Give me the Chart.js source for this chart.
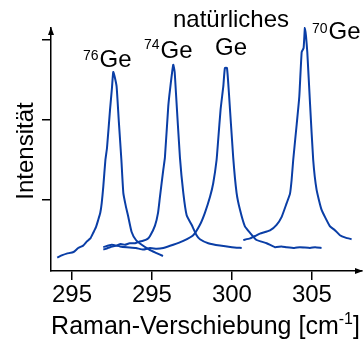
<!DOCTYPE html>
<html>
<head>
<meta charset="utf-8">
<script src="https://cdn.jsdelivr.net/npm/chart.js@4.4.1/dist/chart.umd.min.js"></script>
<style>
  html, body { margin: 0; padding: 0; background: #fff; }
  #wrap { width: 363px; height: 340px; }
</style>
</head>
<body>
<div id="wrap"><canvas id="raman"></canvas></div>
<script>
// ── Daten (Raman-Verschiebung in cm^-1, Intensität in willk. Einheiten) ──
const xTickValues = [290, 295, 300, 305];
const xTickLabels = ["295", "295", "300", "305"];
const yTickValues = [1, 2, 3];

const ge76X = [289.08, 289.40, 289.67, 290.10, 290.39, 290.70, 290.92, 291.15, 291.33, 291.50, 291.64, 291.77, 291.86, 291.96, 292.09, 292.19, 292.38, 292.50, 292.58, 292.66, 292.79, 292.93, 293.09, 293.21, 293.36, 293.52, 293.73, 294.00, 294.36, 294.83, 295.25, 295.69];
const ge76Y = [0.28, 0.31, 0.33, 0.35, 0.40, 0.43, 0.48, 0.52, 0.59, 0.66, 0.75, 0.84, 0.96, 1.17, 1.50, 1.65, 2.13, 2.40, 2.60, 2.55, 2.42, 1.98, 1.50, 1.09, 0.93, 0.79, 0.60, 0.50, 0.44, 0.38, 0.34, 0.30];

const ge74X = [291.96, 292.38, 292.79, 293.05, 293.31, 293.60, 293.94, 294.20, 294.44, 294.70, 294.88, 295.19, 295.38, 295.50, 295.71, 295.81, 296.02, 296.13, 296.33, 296.42, 296.50, 296.75, 296.96, 297.17, 297.48, 297.79, 298.00, 298.52, 299.25, 300.00, 300.61];
const ge74Y = [0.38, 0.41, 0.43, 0.45, 0.44, 0.46, 0.46, 0.48, 0.49, 0.51, 0.55, 0.68, 0.84, 1.04, 1.38, 1.53, 2.17, 2.38, 2.69, 2.60, 2.34, 1.53, 1.09, 0.81, 0.69, 0.56, 0.51, 0.46, 0.43, 0.41, 0.40];

const geNatX = [291.96, 292.48, 293.00, 293.42, 294.00, 294.46, 294.88, 295.30, 295.71, 296.33, 296.96, 297.58, 298.00, 298.31, 298.63, 298.83, 299.04, 299.14, 299.29, 299.46, 299.56, 299.69, 299.81, 300.08, 300.29, 300.50, 300.81, 301.13, 301.54, 302.17, 302.69, 303.10, 303.42, 303.90, 304.25, 304.88, 305.20, 305.60];
const geNatY = [0.41, 0.44, 0.42, 0.41, 0.40, 0.38, 0.40, 0.39, 0.40, 0.44, 0.49, 0.56, 0.69, 0.84, 1.04, 1.21, 1.50, 1.75, 2.13, 2.42, 2.65, 2.65, 2.34, 1.53, 1.09, 0.88, 0.67, 0.59, 0.50, 0.46, 0.41, 0.42, 0.41, 0.40, 0.41, 0.40, 0.41, 0.40];

const ge70X = [300.71, 301.13, 301.45, 301.75, 302.38, 302.79, 303.11, 303.42, 303.63, 303.73, 303.83, 304.05, 304.21, 304.36, 304.48, 304.56, 304.63, 304.71, 304.88, 305.08, 305.29, 305.60, 306.13, 306.45, 306.75, 307.10, 307.48];
const ge70Y = [0.50, 0.52, 0.55, 0.58, 0.62, 0.69, 0.79, 0.96, 1.08, 1.25, 1.50, 1.95, 2.29, 2.85, 2.90, 3.15, 3.05, 2.85, 2.21, 1.50, 1.13, 0.88, 0.67, 0.62, 0.56, 0.53, 0.51];

// ── Stil ──
const LINE_COLOR = "#0a3ea6";
const FONT = "'Liberation Sans', Arial, sans-serif";

const toPoints = (xs, ys) => xs.map((x, i) => ({ x, y: ys[i] }));
const series = [
  toPoints(ge76X, ge76Y),
  toPoints(ge74X, ge74Y),
  toPoints(geNatX, geNatY),
  toPoints(ge70X, ge70Y),
];

// Beschriftungen der Peaks (Hochzahl + Text), Positionen in Pixel
const peakLabels = [
  { sup: "76", text: "Ge", x: 83, base: 67, supBase: 60 },
  { sup: "74", text: "Ge", x: 144, base: 58, supBase: 49 },
  { sup: "70", text: "Ge", x: 312, base: 39, supBase: 33 },
];

const decorPlugin = {
  id: "decor",
  afterDraw(chart) {
    const { ctx, chartArea: a } = chart;
    ctx.save();
    ctx.fillStyle = "#000";
    ctx.strokeStyle = "#000";

    // Pfeile an den Achsen
    ctx.beginPath();
    ctx.moveTo(a.left, a.top - 1);
    ctx.lineTo(a.left - 3, a.top + 7);
    ctx.lineTo(a.left + 3, a.top + 7);
    ctx.closePath();
    ctx.fill();
    ctx.beginPath();
    ctx.moveTo(a.right + 1, a.bottom);
    ctx.lineTo(a.right - 7, a.bottom - 3);
    ctx.lineTo(a.right - 7, a.bottom + 3);
    ctx.closePath();
    ctx.fill();

    // Peak-Beschriftungen
    ctx.textBaseline = "alphabetic";
    ctx.textAlign = "left";
    peakLabels.forEach((l) => {
      ctx.font = `14px ${FONT}`;
      ctx.fillText(l.sup, l.x, l.supBase);
      const w = ctx.measureText(l.sup).width;
      ctx.font = `24px ${FONT}`;
      ctx.fillText(l.text, l.x + w + 1, l.base);
    });
    ctx.textAlign = "center";
    ctx.font = `24px ${FONT}`;
    ctx.fillText("natürliches", 231, 27);
    ctx.fillText("Ge", 231, 55);

    // y-Achsentitel
    ctx.save();
    ctx.translate(33, 151);
    ctx.rotate(-Math.PI / 2);
    ctx.textAlign = "center";
    ctx.fillText("Intensität", 0, 0);
    ctx.restore();

    // x-Achsentitel mit Hochzahl
    const main = "Raman-Verschiebung [cm";
    const sup = "-1";
    const tail = "]";
    ctx.font = `25px ${FONT}`;
    const wMain = ctx.measureText(main).width;
    const wTail = ctx.measureText(tail).width;
    ctx.font = `16px ${FONT}`;
    const wSup = ctx.measureText(sup).width;
    const total = wMain + wSup + wTail;
    let x = 205.5 - total / 2;
    ctx.textAlign = "left";
    ctx.font = `25px ${FONT}`;
    ctx.fillText(main, x, 334);
    x += wMain;
    ctx.font = `16px ${FONT}`;
    ctx.fillText(sup, x, 324);
    x += wSup;
    ctx.font = `25px ${FONT}`;
    ctx.fillText(tail, x, 334);
    ctx.restore();
  },
};

new Chart(document.getElementById("raman"), {
  type: "scatter",
  data: {
    datasets: series.map((data) => ({
      data,
      showLine: true,
      borderColor: LINE_COLOR,
      borderWidth: 2,
      pointRadius: 0,
      tension: 0.15,
      clip: false,
    })),
  },
  options: {
    responsive: true,
    maintainAspectRatio: false,
    animation: false,
    layout: { padding: { top: 28, right: 1, left: 0, bottom: 0 } },
    plugins: { legend: { display: false }, tooltip: { enabled: false } },
    scales: {
      x: {
        type: "linear",
        min: 288.69,
        max: 308.13,
        afterBuildTicks: (axis) => { axis.ticks = xTickValues.map((v) => ({ value: v })); },
        afterFit: (scale) => { scale.height = 69; },
        grid: { drawOnChartArea: false, drawTicks: true, tickLength: 9, color: "#000", lineWidth: 1.5 },
        border: { display: true, color: "#000", width: 1.5 },
        ticks: {
          color: "#000",
          padding: 1,
          font: { family: FONT, size: 24 },
          maxRotation: 0,
          callback: (v, i) => xTickLabels[i],
        },
      },
      y: {
        type: "linear",
        min: 0.1125,
        max: 3.15,
        afterBuildTicks: (axis) => { axis.ticks = yTickValues.map((v) => ({ value: v })); },
        afterFit: (scale) => { scale.width = 51; },
        grid: { drawOnChartArea: false, drawTicks: true, tickLength: 9, color: "#000", lineWidth: 1.5 },
        border: { display: true, color: "#000", width: 1.5 },
        ticks: { display: false },
      },
    },
  },
  plugins: [decorPlugin],
});
</script>
</body>
</html>
